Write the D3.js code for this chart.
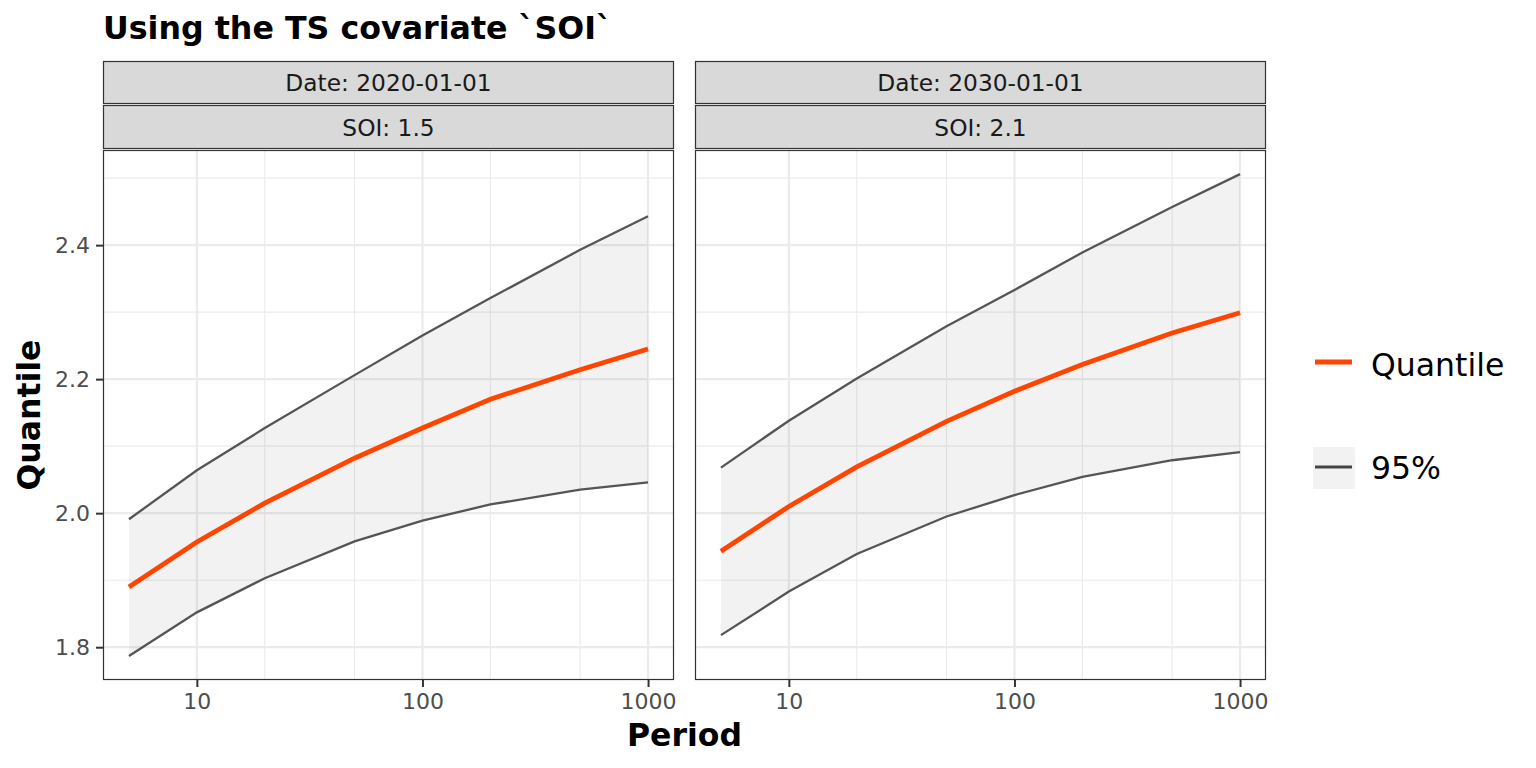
<!DOCTYPE html>
<html>
<head>
<meta charset="utf-8">
<script src="https://cdnjs.cloudflare.com/ajax/libs/d3/7.8.5/d3.min.js"></script>
<style>
  body { margin: 0; background: #fff; }
  text { font-family: "DejaVu Sans", sans-serif; }
</style>
</head>
<body>
<div class="canvas"></div>
<script>
// data
const periods = [5, 10, 20, 50, 100, 200, 500, 1000];
const dates = ['Date: 2020-01-01', 'Date: 2030-01-01'];
const sois = ['SOI: 1.5', 'SOI: 2.1'];

const quant1 = [1.890, 1.957, 2.015, 2.082, 2.127, 2.170, 2.214, 2.245];
const upper1 = [1.991, 2.064, 2.127, 2.206, 2.265, 2.321, 2.393, 2.443];
const lower1 = [1.787, 1.852, 1.903, 1.958, 1.989, 2.013, 2.035, 2.046];

const quant2 = [1.943, 2.010, 2.069, 2.137, 2.182, 2.222, 2.269, 2.299];
const upper2 = [2.068, 2.138, 2.201, 2.279, 2.333, 2.389, 2.457, 2.506];
const lower2 = [1.818, 1.883, 1.939, 1.995, 2.027, 2.054, 2.079, 2.091];

const xMajor = [10, 100, 1000];
const xMinor = [20, 50, 200, 500];
const yMajor = [1.8, 2.0, 2.2, 2.4];
const yMinor = [1.9, 2.1, 2.3, 2.5];

const panelsData = [
  { strip1: dates[0], strip2: sois[0], q: quant1, up: upper1, lo: lower1 },
  { strip1: dates[1], strip2: sois[1], q: quant2, up: upper2, lo: lower2 }
];

//layout
const W = 1536, H = 768;
const panelW = 571, panelTop = 150, panelBottom = 680;
const panelX = [103, 695];

const svg = d3.select('.canvas')
              .append('svg')
              .attr('width', W)
              .attr('height', H);

// x scale (log, 5% expansion like ggplot)
const lx = [Math.log10(5), Math.log10(1000)];
const xpad = (lx[1] - lx[0]) * 0.05;
const x = d3.scaleLog()
            .domain([Math.pow(10, lx[0] - xpad), Math.pow(10, lx[1] + xpad)])
            .range([0, panelW]);

// y scale shared over panels
const allY = [].concat(upper1, lower1, upper2, lower2);
const yext = d3.extent(allY);
const ypad = (yext[1] - yext[0]) * 0.05;
const y = d3.scaleLinear()
            .domain([yext[0] - ypad, yext[1] + ypad])
            .range([panelBottom - panelTop, 0]);

const ph = panelBottom - panelTop;

//title
svg.append('text')
   .attr('x', 103).attr('y', 39)
   .attr('font-size', 31.7).attr('font-weight', 'bold')
   .attr('fill', '#000')
   .text('Using the TS covariate `SOI`');

panelsData.forEach((p, i) => {
  const g = svg.append('g').attr('transform', `translate(${panelX[i]}, ${panelTop})`);

  // strips
  const strips = [ {y: 61, h: 43, label: p.strip1}, {y: 105, h: 44, label: p.strip2} ];
  strips.forEach(s => {
    svg.append('rect')
       .attr('x', panelX[i] + 0.5).attr('y', s.y + 0.5)
       .attr('width', panelW - 1).attr('height', s.h - 1)
       .attr('fill', '#D9D9D9')
       .attr('stroke', '#333').attr('stroke-width', 1.2);
    svg.append('text')
       .attr('x', panelX[i] + panelW / 2)
       .attr('y', s.y + s.h / 2 + 8.5)
       .attr('text-anchor', 'middle')
       .attr('font-size', 23.3)
       .attr('fill', '#1A1A1A')
       .text(s.label);
  });

  // panel background
  g.append('rect').attr('width', panelW).attr('height', ph).attr('fill', '#fff');

  // grid
  g.selectAll('.ymin').data(yMinor).enter().append('line')
   .attr('x1', 0).attr('x2', panelW)
   .attr('y1', d => y(d)).attr('y2', d => y(d))
   .attr('stroke', '#EBEBEB').attr('stroke-width', 1.1);
  g.selectAll('.xmin').data(xMinor).enter().append('line')
   .attr('y1', 0).attr('y2', ph)
   .attr('x1', d => x(d)).attr('x2', d => x(d))
   .attr('stroke', '#EBEBEB').attr('stroke-width', 1.1);
  g.selectAll('.ymaj').data(yMajor).enter().append('line')
   .attr('x1', 0).attr('x2', panelW)
   .attr('y1', d => y(d)).attr('y2', d => y(d))
   .attr('stroke', '#EBEBEB').attr('stroke-width', 2.2);
  g.selectAll('.xmaj').data(xMajor).enter().append('line')
   .attr('y1', 0).attr('y2', ph)
   .attr('x1', d => x(d)).attr('x2', d => x(d))
   .attr('stroke', '#EBEBEB').attr('stroke-width', 2.2);

  const rows = periods.map((d, k) => ({ period: d, q: p.q[k], up: p.up[k], lo: p.lo[k] }));

  // ribbon
  g.append('path')
   .datum(rows)
   .attr('fill', '#000').attr('fill-opacity', 0.05)
   .attr('d', d3.area().x(d => x(d.period)).y0(d => y(d.lo)).y1(d => y(d.up)));

  // bounds
  ['up', 'lo'].forEach(key => {
    g.append('path')
     .datum(rows)
     .attr('fill', 'none')
     .attr('stroke', '#555').attr('stroke-width', 2.3)
     .attr('d', d3.line().x(d => x(d.period)).y(d => y(d[key])));
  });

  // quantile
  g.append('path')
   .datum(rows)
   .attr('fill', 'none')
   .attr('stroke', '#FF4500').attr('stroke-width', 4.8)
   .attr('d', d3.line().x(d => x(d.period)).y(d => y(d.q)));

  // border
  g.append('rect').attr('x', 0.5).attr('y', 0.5)
   .attr('width', panelW - 1).attr('height', ph - 1)
   .attr('fill', 'none').attr('stroke', '#333').attr('stroke-width', 1.2);

  // x axis
  const xa = g.append('g')
              .attr('transform', `translate(0, ${ph})`)
              .call(d3.axisBottom(x).tickValues(xMajor).tickFormat(d3.format('d')).tickSize(7).tickPadding(6));
  xa.select('.domain').remove();
  xa.selectAll('line').attr('stroke', '#333').attr('stroke-width', 2);
  xa.selectAll('text').attr('font-size', 22).attr('fill', '#4D4D4D').attr('font-family', 'DejaVu Sans');

  if (i === 0) {
    const ya = g.append('g')
                .call(d3.axisLeft(y).tickValues(yMajor).tickFormat(d3.format('.1f')).tickSize(7).tickPadding(6));
    ya.select('.domain').remove();
    ya.selectAll('line').attr('stroke', '#333').attr('stroke-width', 2);
    ya.selectAll('text').attr('font-size', 22).attr('fill', '#4D4D4D').attr('font-family', 'DejaVu Sans');
  }
});

// axis titles
svg.append('text')
   .attr('x', (panelX[0] + panelX[1] + panelW) / 2).attr('y', 746)
   .attr('text-anchor', 'middle')
   .attr('font-size', 31.5).attr('font-weight', 'bold')
   .text('Period');

svg.append('text')
   .attr('transform', `translate(40, ${(panelTop + panelBottom) / 2}) rotate(-90)`)
   .attr('text-anchor', 'middle')
   .attr('font-size', 31.5).attr('font-weight', 'bold')
   .text('Quantile');

// legend
const leg = svg.append('g');
leg.append('line')
   .attr('x1', 1315).attr('x2', 1352).attr('y1', 362).attr('y2', 362)
   .attr('stroke', '#FF4500').attr('stroke-width', 5);
leg.append('text')
   .attr('x', 1371).attr('y', 376)
   .attr('font-size', 31.5).text('Quantile');

leg.append('rect')
   .attr('x', 1313).attr('y', 447).attr('width', 42).attr('height', 42)
   .attr('fill', '#F2F2F2');
leg.append('line')
   .attr('x1', 1315).attr('x2', 1352).attr('y1', 467).attr('y2', 467)
   .attr('stroke', '#444').attr('stroke-width', 2.8);
leg.append('text')
   .attr('x', 1371).attr('y', 479)
   .attr('font-size', 31.5).text('95%');
</script>
</body>
</html>
